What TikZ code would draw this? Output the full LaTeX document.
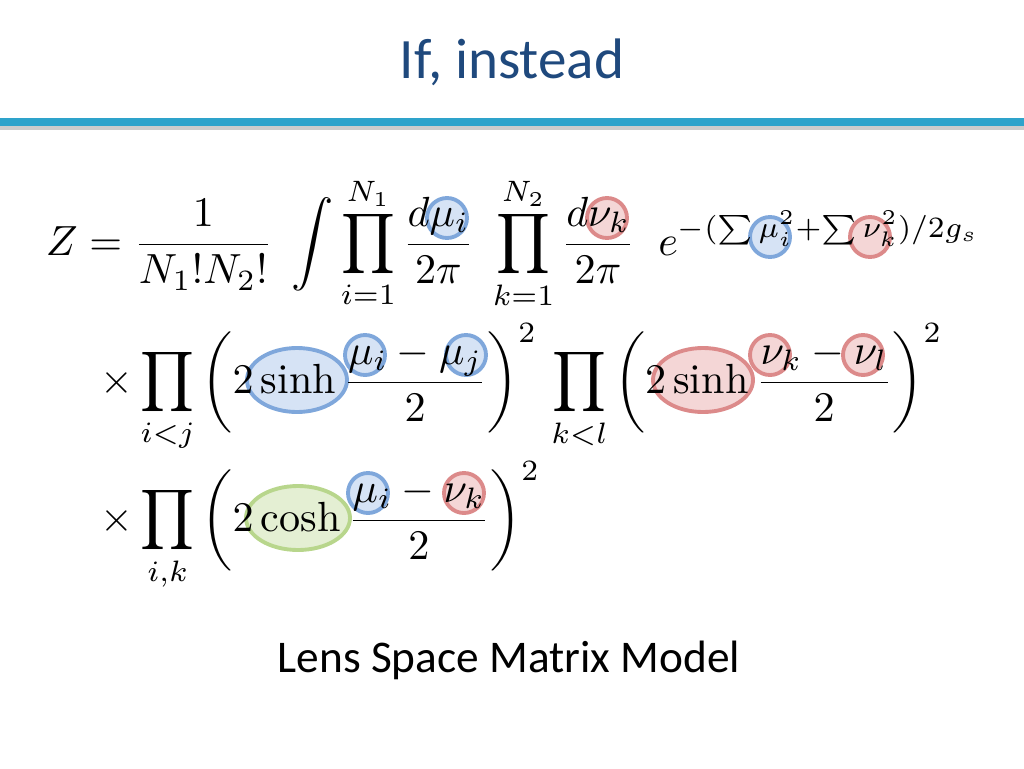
\documentclass[tikz,border=0pt]{standalone}
\usepackage{amsmath}
\usepackage{fontspec}
\newfontfamily\slidefont{Carlito}
\usetikzlibrary{positioning}
\definecolor{titleblue}{HTML}{1F497D}
\definecolor{rulecyan}{HTML}{2EA3CB}
\definecolor{mublue}{HTML}{7FA7DB}
\definecolor{mufill}{HTML}{D6E3F5}
\definecolor{nured}{HTML}{DC8A8A}
\definecolor{nufill}{HTML}{F4D6D6}
\definecolor{chgreen}{HTML}{B8D68C}
\definecolor{chfill}{HTML}{E4EFD3}
\begin{document}
\begin{tikzpicture}[x=0.02cm,y=-0.02cm,
  mucirc/.style={draw=mublue,fill=mufill,line width=2.2pt},
  nucirc/.style={draw=nured,fill=nufill,line width=2.2pt},
  chcirc/.style={draw=chgreen,fill=chfill,line width=2.2pt},
  eqline/.style={anchor=base west,inner sep=0pt,scale=2.4,transform shape}]
\useasboundingbox (0,0) rectangle (1024,768);
\node[font=\slidefont\fontsize{32.5}{38}\selectfont,text=titleblue] (title) at (512,62) {If, instead};
\draw[gray!40,line width=3pt] (0,127) -- (1024,127);
\draw[rulecyan,line width=4.5pt] (0,122) -- (1024,122);
% circles behind the symbols
\draw[mucirc] (447,218) circle (20);
\draw[nucirc] (607,218) circle (20);
\draw[mucirc] (770,237) circle (20);
\draw[nucirc] (870,237) circle (20);
\draw[mucirc] (297,380) ellipse (50 and 32);
\draw[mucirc] (365,355) circle (20);
\draw[mucirc] (466,355) circle (20);
\draw[nucirc] (703,380) ellipse (50 and 32);
\draw[nucirc] (770,355) circle (20);
\draw[nucirc] (863,355) circle (20);
\draw[chcirc] (298,518) ellipse (52 and 32);
\draw[mucirc] (368,493) circle (20);
\draw[nucirc] (464,493) circle (20);
% the equation
\node[eqline] (eqa) at (45,255) {$\displaystyle Z=\frac{1}{N_1!N_2!}\;\int\prod_{i=1}^{N_1}\frac{d\mu_i}{2\pi}\;\prod_{k=1}^{N_2}\frac{d\nu_k}{2\pi}\;\; e^{-(\sum\mu_i^2+\sum\nu_k^2)/2g_s}$};
\node[eqline] (eqb) at (100,393) {$\displaystyle \times\prod_{i<j}\left(2\sinh\frac{\mu_i-\mu_j}{2}\right)^2\,\prod_{k<l}\left(2\sinh\frac{\nu_k-\nu_l}{2}\right)^2$};
\node[eqline] (eqc) at (100,531) {$\displaystyle \times\prod_{i,k}\left(2\cosh\frac{\mu_i-\nu_k}{2}\right)^2$};
\node[font=\slidefont\fontsize{25.8}{31}\selectfont] (caption) at (509,660) {Lens Space Matrix Model};
\end{tikzpicture}
\end{document}
